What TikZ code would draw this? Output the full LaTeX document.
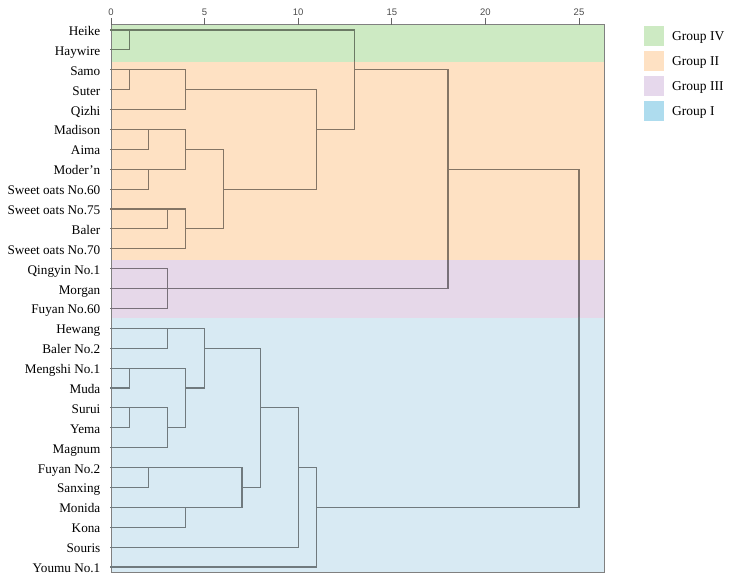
\documentclass[tikz,border=0pt]{standalone}
\usepackage{fontspec}
\setmainfont{Liberation Serif}
\newfontfamily\axisfont{Liberation Sans}
\definecolor{bandG}{HTML}{CDEAC3}
\definecolor{bandO}{HTML}{FEE1C3}
\definecolor{bandP}{HTML}{E6D8E9}
\definecolor{bandB}{HTML}{D8EAF3}
\definecolor{legB}{HTML}{AEDCEE}
\definecolor{legP}{HTML}{E6D8EC}
\tikzset{
  link/.style={draw=linkcol, line width=1.1pt, line cap=rect},
  frame/.style={draw=black!50, line width=1pt},
  leaf/.style={font=\fontsize{13.2}{15}\selectfont, anchor=base east, inner sep=0pt, yshift=-5.5pt},
  tick/.style={draw=black!60, line width=0.9pt},
  ticklabel/.style={font=\axisfont\fontsize{9.5}{11}\selectfont, text=black!70, inner sep=0pt},
  legbox/.style={draw=none, minimum width=20pt, minimum height=20pt, inner sep=0pt},
  legtext/.style={font=\fontsize{13.5}{15}\selectfont, anchor=base west, inner sep=0pt}
}
\newcommand\dendrolinks{%
  % Group IV
  \draw[link] (0,1) -- (1,1) -- (1,0);
  \draw[link] (0,0) -- (13,0) -- (13,5) -- (11,5);
  % Group II
  \draw[link] (0,3) -- (1,3) -- (1,2);
  \draw[link] (0,2) -- (4,2) -- (4,4) -- (0,4);
  \draw[link] (4,3) -- (11,3) -- (11,8) -- (6,8);
  \draw[link] (0,6) -- (2,6) -- (2,5);
  \draw[link] (0,5) -- (4,5) -- (4,7) -- (0,7);
  \draw[link] (0,8) -- (2,8) -- (2,7);
  \draw[link] (4,6) -- (6,6) -- (6,10) -- (4,10);
  \draw[link] (0,10) -- (3,10) -- (3,9);
  \draw[link] (0,9) -- (4,9) -- (4,11) -- (0,11);
  \draw[link] (13,2) -- (18,2) -- (18,13);
  \draw[link] (18,7) -- (25,7) -- (25,24);
  % Group III
  \draw[link] (0,12) -- (3,12) -- (3,14) -- (0,14);
  \draw[link] (0,13) -- (18,13);
  % Group I
  \draw[link] (0,16) -- (3,16) -- (3,15);
  \draw[link] (0,15) -- (5,15) -- (5,18) -- (4,18);
  \draw[link] (5,16) -- (8,16) -- (8,23) -- (7,23);
  \draw[link] (0,18) -- (1,18) -- (1,17);
  \draw[link] (0,17) -- (4,17) -- (4,20) -- (3,20);
  \draw[link] (0,20) -- (1,20) -- (1,19);
  \draw[link] (0,19) -- (3,19) -- (3,21) -- (0,21);
  \draw[link] (0,23) -- (2,23) -- (2,22);
  \draw[link] (0,22) -- (7,22) -- (7,24) -- (0,24);
  \draw[link] (0,25) -- (4,25) -- (4,24);
  \draw[link] (8,19) -- (10,19) -- (10,26) -- (0,26);
  \draw[link] (10,22) -- (11,22) -- (11,27) -- (0,27);
  \draw[link] (11,24) -- (25,24);
}
\newcommand\bandlinks[3]{% y1, y2, colour
  \begin{scope}
    \clip (100,#1) rectangle (620,#2);
    \colorlet{linkcol}{#3!52!black}
    \begin{scope}[shift={(111,30)}, x=18.72pt, y=-19.89pt]
      \dendrolinks
    \end{scope}
  \end{scope}
}
\begin{document}
\begin{tikzpicture}[x=1pt, y=-1pt]
\useasboundingbox (0,0) rectangle (730,582);
% bands
\fill[bandG] (111,24.5) rectangle (604.5,61.5);
\fill[bandO] (111,61.5) rectangle (604.5,260);
\fill[bandP] (111,260) rectangle (604.5,317.5);
\fill[bandB] (111,317.5) rectangle (604.5,572.3);
% frame
\draw[frame] (111,24.5) -- (604.5,24.5) -- (604.5,572.3) -- (111,572.3) -- cycle;
% axis ticks and labels
\foreach \k/\lab in {0/0,1/5,2/10,3/15,4/20,5/25} {
  \draw[tick] ({111+93.6*\k},18) -- ({111+93.6*\k},24.5);
  \node[ticklabel] (t\k) at ({111+93.6*\k},12) {\lab};
}
% legend
\node[legbox, fill=bandG] (lg4) at (654,36) {};
\node[legbox, fill=bandO] (lg2) at (654,61) {};
\node[legbox, fill=legP]  (lg3) at (654,86) {};
\node[legbox, fill=legB]  (lg1) at (654,111) {};
\node[legtext] (lt4) at (672,40.5) {Group IV};
\node[legtext] (lt2) at (672,65.5) {Group II};
\node[legtext] (lt3) at (672,90.5) {Group III};
\node[legtext] (lt1) at (672,115.5) {Group I};
% dendrogram lines, tinted by the band beneath them
\bandlinks{20}{61.5}{bandG}
\bandlinks{61.5}{260}{bandO}
\bandlinks{260}{317.5}{bandP}
\bandlinks{317.5}{575}{bandB}
% leaf labels
\begin{scope}[shift={(111,30)}, x=18.72pt, y=-19.89pt]
  \foreach \i/\name in {0/Heike,1/Haywire,2/Samo,3/Suter,4/Qizhi,5/Madison,6/Aima,7/Moder'n,
    8/Sweet oats No.60,9/Sweet oats No.75,10/Baler,11/Sweet oats No.70,12/Qingyin No.1,
    13/Morgan,14/Fuyan No.60,15/Hewang,16/Baler No.2,17/Mengshi No.1,18/Muda,19/Surui,
    20/Yema,21/Magnum,22/Fuyan No.2,23/Sanxing,24/Monida,25/Kona,26/Souris,27/Youmu No.1} {
    \node[leaf] (n\i) at (-0.56,\i) {\name};
  }
\end{scope}
\end{tikzpicture}
\end{document}
